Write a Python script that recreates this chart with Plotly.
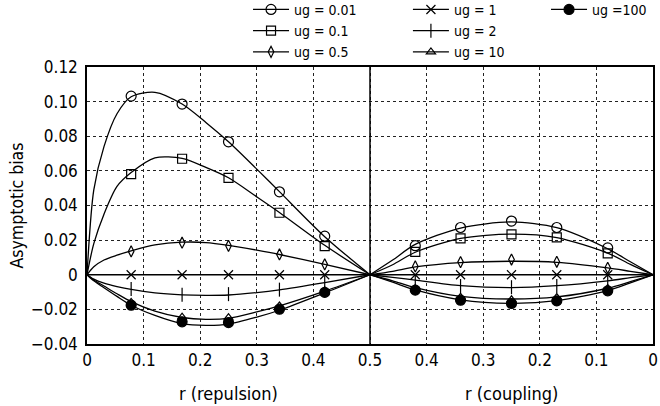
import plotly.graph_objects as go

# ---------------- data ----------------
ug_labels = ["ug = 0.01", "ug = 0.1", "ug = 0.5", "ug = 1", "ug = 2", "ug = 10", "ug =100"]
symbols = ["circle-open", "square-open", "diamond-tall-open", "x-thin-open", "line-ns-open", "triangle-up-open", "circle"]
marker_sizes = [10, 9, 8, 9, 10, 8, 10]
legend_ids = ["legend", "legend", "legend", "legend2", "legend2", "legend2", "legend3"]

# left panel: r (repulsion); right panel: r (coupling)
r_marks_rep = [0.078, 0.168, 0.25, 0.34, 0.42]
r_marks_cpl = [0.42, 0.34, 0.25, 0.17, 0.08]

r_curve_rep = [0, 0.012, 0.03, 0.053, 0.078, 0.12, 0.168, 0.21, 0.25, 0.30, 0.34, 0.42, 0.5]
r_curve_cpl = [0.5, 0.46, 0.42, 0.34, 0.25, 0.17, 0.08, 0.04, 0]

marks_rep = {
    "ug = 0.01": [0.1032, 0.0986, 0.0768, 0.0479, 0.0223],
    "ug = 0.1":  [0.0581, 0.0670, 0.0560, 0.0358, 0.0165],
    "ug = 0.5":  [0.0135, 0.0185, 0.0167, 0.0117, 0.0060],
    "ug = 1":    [0.0, 0.0, 0.0, 0.0, 0.0],
    "ug = 2":    [-0.0082, -0.0115, -0.0112, -0.0086, -0.0048],
    "ug = 10":   [-0.0160, -0.0245, -0.0248, -0.0180, -0.0092],
    "ug =100":   [-0.0176, -0.0272, -0.0276, -0.0199, -0.0102],
}
marks_cpl = {
    "ug = 0.01": [0.0168, 0.0273, 0.0310, 0.0273, 0.0155],
    "ug = 0.1":  [0.0132, 0.0210, 0.0233, 0.0216, 0.0123],
    "ug = 0.5":  [0.0048, 0.0073, 0.0088, 0.0075, 0.0040],
    "ug = 1":    [0.0, 0.0, 0.0, 0.0, 0.0],
    "ug = 2":    [-0.0040, -0.0065, -0.0072, -0.0065, -0.0038],
    "ug = 10":   [-0.0080, -0.0130, -0.0145, -0.0132, -0.0080],
    "ug =100":   [-0.0089, -0.0147, -0.0166, -0.0151, -0.0093],
}
curve_rep = {
    "ug = 0.01": [0, 0.049, 0.074, 0.093, 0.1028, 0.1054, 0.0986, 0.088, 0.0768, 0.061, 0.048, 0.022, 0],
    "ug = 0.1":  [0, 0.018, 0.035, 0.051, 0.059, 0.0675, 0.0672, 0.062, 0.056, 0.045, 0.036, 0.017, 0],
    "ug = 0.5":  [0, 0.0046, 0.0085, 0.0113, 0.0138, 0.0172, 0.0188, 0.0186, 0.0170, 0.0142, 0.0117, 0.0060, 0],
    "ug = 1":    [0, 0, 0, 0, 0, 0, 0, 0, 0, 0, 0, 0, 0],
    "ug = 2":    [0, -0.0025, -0.0048, -0.0068, -0.0085, -0.0105, -0.0116, -0.0119, -0.0117, -0.0103, -0.0087, -0.0045, 0],
    "ug = 10":   [0, -0.0030, -0.0065, -0.0110, -0.0155, -0.0210, -0.0247, -0.0258, -0.0252, -0.0215, -0.0180, -0.0095, 0],
    "ug =100":   [0, -0.0035, -0.0075, -0.0125, -0.0176, -0.0235, -0.0282, -0.0292, -0.0285, -0.0245, -0.0205, -0.0105, 0],
}
curve_cpl = {
    "ug = 0.01": [0, 0.0085, 0.0175, 0.0270, 0.0305, 0.0272, 0.0150, 0.0075, 0],
    "ug = 0.1":  [0, 0.0058, 0.0130, 0.0210, 0.0235, 0.0215, 0.0125, 0.0060, 0],
    "ug = 0.5":  [0, 0.0020, 0.0045, 0.0070, 0.0078, 0.0072, 0.0040, 0.0020, 0],
    "ug = 1":    [0, 0, 0, 0, 0, 0, 0, 0, 0],
    "ug = 2":    [0, -0.0015, -0.0031, -0.0063, -0.0074, -0.0063, -0.0035, -0.0017, 0],
    "ug = 10":   [0, -0.0035, -0.0075, -0.0125, -0.0140, -0.0128, -0.0078, -0.0040, 0],
    "ug =100":   [0, -0.0043, -0.0088, -0.0145, -0.0165, -0.0150, -0.0092, -0.0047, 0],
}

x_tickvals = [0, 0.1, 0.2, 0.3, 0.4, 0.5, 0.6, 0.7, 0.8, 0.9, 1.0]
x_ticktext = ["0", "0.1", "0.2", "0.3", "0.4", "0.5", "0.4", "0.3", "0.2", "0.1", "0"]
y_tickvals = [-0.04, -0.02, 0, 0.02, 0.04, 0.06, 0.08, 0.10, 0.12]
y_ticktext = ["\u22120.04", "\u22120.02", "0", "0.02", "0.04", "0.06", "0.08", "0.10", "0.12"]

FONT = "DejaVu Sans Condensed, DejaVu Sans, sans-serif"

fig = go.Figure()

def cpl_x(rs):
    return [1 - r for r in rs]

for lab, sym, ms, lg in zip(ug_labels, symbols, marker_sizes, legend_ids):
    # theoretical curves (two panels, separated by a gap)
    xs = list(r_curve_rep) + [None] + cpl_x(r_curve_cpl)
    ys = list(curve_rep[lab]) + [None] + list(curve_cpl[lab])
    fig.add_trace(go.Scatter(x=xs, y=ys, mode="lines", line=dict(color="black", width=1.3, shape="spline", smoothing=0.8),
                             showlegend=False, hoverinfo="skip", connectgaps=False))
    # simulated points
    mx = list(r_marks_rep) + cpl_x(r_marks_cpl)
    my = list(marks_rep[lab]) + list(marks_cpl[lab])
    fig.add_trace(go.Scatter(x=mx, y=my, mode="markers",
                             marker=dict(symbol=sym, size=ms, color="black", line=dict(color="black", width=1.2)),
                             showlegend=False))
    # legend entry
    fig.add_trace(go.Scatter(x=[None], y=[None], mode="lines+markers", name=lab, legend=lg,
                             line=dict(color="black", width=1.2),
                             marker=dict(symbol=sym, size=ms, color="black", line=dict(color="black", width=1.2))))

grid = dict(showgrid=True, gridcolor="#222", gridwidth=1, griddash="dot")
leg_common = dict(yanchor="top", xanchor="left", font=dict(size=14), bgcolor="rgba(0,0,0,0)",
                  itemwidth=36, tracegroupgap=0, y=1.264)

fig.update_layout(
    width=660, height=406,
    margin=dict(l=87, r=7, t=67, b=62, autoexpand=False),
    paper_bgcolor="white", plot_bgcolor="white",
    font=dict(family=FONT, size=17, color="black"),
    xaxis=dict(range=[0, 1], tickvals=x_tickvals, ticktext=x_ticktext, showline=True, mirror=True,
               linecolor="black", linewidth=1.5, zeroline=False, ticks="", **grid),
    yaxis=dict(range=[-0.04, 0.12], tickvals=y_tickvals, ticktext=y_ticktext, showline=True, mirror=True,
               linecolor="black", linewidth=1.5, zeroline=False, ticks="", ticklabelstandoff=4,
               title=dict(text="Asymptotic bias", font=dict(size=17.5), standoff=3),
               **grid),
    legend=dict(x=0.2845, **leg_common),
    legend2=dict(x=0.567, **leg_common),
    legend3=dict(x=0.811, **leg_common),
    showlegend=True,
)

# solid divider between the two panels
fig.add_shape(type="line", xref="x", yref="paper", x0=0.5, x1=0.5, y0=0, y1=1, line=dict(color="black", width=1.5))

fig.add_annotation(x=0.25, y=-0.18, xref="x", yref="paper", text="r (repulsion)", showarrow=False,
                   font=dict(size=18), yanchor="middle")
fig.add_annotation(x=0.75, y=-0.18, xref="x", yref="paper", text="r (coupling)", showarrow=False,
                   font=dict(size=18), yanchor="middle")

fig.write_html("out.html")
